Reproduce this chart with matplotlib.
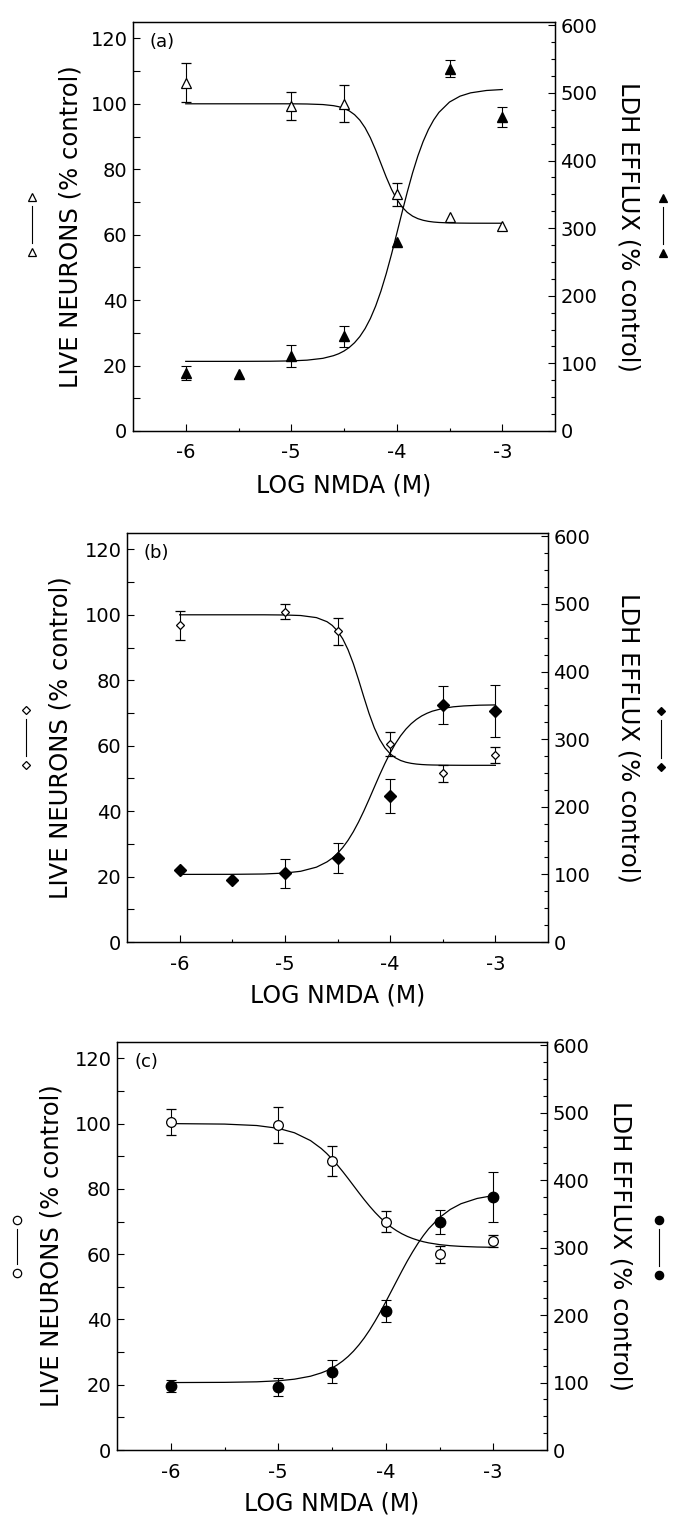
import numpy as np
import matplotlib
matplotlib.use("Agg")
import matplotlib.pyplot as plt
from matplotlib.lines import Line2D

plt.rcParams['font.family'] = ['DejaVu Sans']
plt.rcParams['axes.unicode_minus'] = False

# --- dati ---
# griglia delle curve di fit (log NMDA)
curve_x = [-6, -5.5, -5.2, -5, -4.85, -4.7, -4.6, -4.55, -4.5, -4.45, -4.4, -4.35,
           -4.3, -4.25, -4.2, -4.15, -4.1, -4.05, -4.0, -3.95, -3.9, -3.85, -3.8,
           -3.75, -3.7, -3.65, -3.6, -3.5, -3.4, -3.3, -3.15, -3]

# (a) triangoli
a_live_x = [-6, -5, -4.5, -4, -3.5, -3]
a_live_y = [106.5, 99.4, 100, 72.4, 65.5, 62.5]
a_live_err = [6, 4.3, 5.6, 3.5, np.nan, np.nan]
a_ldh_x = [-6, -5.5, -5, -4.5, -4, -3.5, -3]
a_ldh_y = [86, 84, 111, 140, 279, 536, 465]
a_ldh_err = [10, np.nan, 16, 16, np.nan, 13, 15]
a_live_fit = [100, 100, 100, 100, 99.94, 99.77, 99.43, 99.11, 98.6, 97.83, 96.68, 95.01,
              92.67, 89.61, 85.88, 81.75, 77.62, 73.89, 70.83, 68.49, 66.82, 65.67, 64.9,
              64.4, 64.07, 63.86, 63.73, 63.59, 63.54, 63.51, 63.5, 63.5]
a_ldh_fit = [103, 103, 103.2, 103.7, 104.8, 107.5, 111.4, 114.3, 118.3, 123.6, 130.6, 139.7,
             151.5, 166.4, 184.8, 206.9, 232.6, 261.3, 292, 323.2, 353.6, 381.8, 406.8,
             428.2, 445.9, 460.1, 471.3, 486.6, 495.3, 500.2, 503.7, 505.1]

# (b) rombi
b_live_x = [-6, -5, -4.5, -4, -3.5, -3]
b_live_y = [96.8, 101, 94.9, 60.5, 51.6, 57.2]
b_live_err = [4.5, 2.4, 4.2, 3.7, 2.6, 2.4]
b_ldh_x = [-6, -5.5, -5, -4.5, -4, -3.5, -3]
b_ldh_y = [106.5, 91.7, 101.6, 123.8, 216.4, 350.6, 341.7]
b_ldh_err = [np.nan, np.nan, 21, 22, 25, 28, 38]
b_live_fit = [100, 100, 100, 99.94, 99.78, 99.14, 97.9, 96.76, 95.06, 92.64, 89.33, 85.11,
              80.16, 74.89, 69.83, 65.44, 61.95, 59.36, 57.53, 56.29, 55.47, 54.94, 54.6,
              54.38, 54.24, 54.15, 54.1, 54.04, 54.02, 54, 54, 54]
b_ldh_fit = [100, 100.1, 100.6, 102, 104.6, 110.7, 118.5, 124, 131.1, 139.8, 150.4, 163,
             177.5, 193.7, 211.1, 229.1, 247, 263.9, 279.5, 293.3, 305.1, 314.9, 322.9,
             329.3, 334.4, 338.3, 341.4, 345.5, 347.9, 349.2, 350.3, 350.7]

# (c) cerchi
c_live_x = [-6, -5, -4.5, -4, -3.5, -3]
c_live_y = [100.4, 99.6, 88.6, 70, 59.9, 64.1]
c_live_err = [4, 5.5, 4.6, 3.2, 2.6, 1.9]
c_ldh_x = [-6, -5, -4.5, -4, -3.5, -3]
c_ldh_y = [95, 93.5, 116, 206.5, 338.5, 375]
c_ldh_err = [9, 14, 17, 16, 18, 37]
c_live_fit = [100, 99.85, 99.41, 98.55, 97.2, 94.8, 92.37, 90.87, 89.18, 87.31, 85.3, 83.18,
              81, 78.82, 76.7, 74.69, 72.82, 71.13, 69.63, 68.32, 67.2, 66.25, 65.45,
              64.8, 64.26, 63.81, 63.45, 62.93, 62.59, 62.38, 62.19, 62.1]
c_ldh_fit = [100, 100.3, 101.1, 102.6, 105, 109.4, 114.3, 117.5, 121.5, 126.3, 132, 138.7,
             146.6, 155.8, 166.2, 177.9, 190.9, 204.8, 219.6, 234.9, 250.2, 265.4, 280.1,
             293.8, 306.5, 318, 328.2, 344.7, 356.7, 365.2, 373, 377.3]

x_ticks = [-6, -5, -4, -3]
x_minor = [-5.5, -4.5, -3.5]
left_ticks = [0, 20, 40, 60, 80, 100, 120]
left_minor = [10, 30, 50, 70, 90, 110]
right_ticks = [0, 100, 200, 300, 400, 500, 600]
right_minor = [v for v in range(25, 600, 25) if v % 100]

W, H = 673, 1515
fig = plt.figure(figsize=(W / 100, H / 100), dpi=100)


def px(x, y):
    return x / W, 1 - y / H


def pannello(box, tag, marker, ms_open, ms_fill,
             live_x, live_y, live_err, ldh_x, ldh_y, ldh_err, live_fit, ldh_fit,
             lab_l, lab_r, xlab_y):
    l, t, r, b = box
    ax = fig.add_axes([l / W, 1 - b / H, (r - l) / W, (b - t) / H])
    ax2 = ax.twinx()

    ax.plot(curve_x, live_fit, color='black', lw=0.9, zorder=2)
    ax2.plot(curve_x, ldh_fit, color='black', lw=0.9, zorder=2)

    ax.errorbar(live_x, live_y, yerr=live_err, fmt=marker, ms=ms_open, mfc='white',
                mec='black', mew=0.9, ecolor='black', elinewidth=0.8, capsize=3.5,
                capthick=0.8, zorder=4)
    ax2.errorbar(ldh_x, ldh_y, yerr=ldh_err, fmt=marker, ms=ms_fill, mfc='black',
                 mec='black', ecolor='black', elinewidth=0.8, capsize=3.5,
                 capthick=0.8, zorder=4)

    ax.set_xlim(-6.5, -2.5)
    ax.set_ylim(0, 125)
    ax2.set_ylim(0, 605)
    ax.set_xticks(x_ticks)
    ax.set_xticks(x_minor, minor=True)
    ax.set_yticks(left_ticks)
    ax.set_yticks(left_minor, minor=True)
    ax2.set_yticks(right_ticks)
    ax2.set_yticks(right_minor, minor=True)

    ax.tick_params(axis='both', which='both', direction='in', width=0.8, labelsize=14)
    ax.tick_params(axis='y', which='major', length=5, pad=4)
    ax.tick_params(axis='y', which='minor', length=5)
    ax.tick_params(axis='x', which='major', length=5, pad=9)
    ax.tick_params(axis='x', which='minor', length=2.5)
    ax2.tick_params(axis='y', which='both', direction='in', width=0.8, labelsize=14, pad=4)
    ax2.tick_params(axis='y', which='major', length=5)
    ax2.tick_params(axis='y', which='minor', length=3)

    for a in (ax, ax2):
        for s in a.spines.values():
            s.set_linewidth(0.9)

    ax.set_xlabel('LOG NMDA (M)', fontsize=17)
    ax.xaxis.set_label_coords(0.5, -(xlab_y - b) / (b - t))
    ax.xaxis.label.set_va('center')
    ax.set_ylabel('LIVE NEURONS (% control)', fontsize=17.5)
    ax.yaxis.set_label_coords(lab_l, 0.5)
    ax.yaxis.label.set_va('center')
    ax2.set_ylabel('LDH EFFLUX (% control)', fontsize=17.5, rotation=270)
    ax2.yaxis.set_label_coords(lab_r, 0.5)
    ax2.yaxis.label.set_va('center')

    ax.text(0.04, 0.952, tag, transform=ax.transAxes, fontsize=13, ha='left', va='center')


pannello((133, 22, 555, 431), '(a)', '^', 7.5, 7.5,
         a_live_x, a_live_y, a_live_err, a_ldh_x, a_ldh_y, a_ldh_err,
         a_live_fit, a_ldh_fit, -0.147, 1.175, 485)
pannello((127, 533, 548, 942), '(b)', 'D', 4.5, 6,
         b_live_x, b_live_y, b_live_err, b_ldh_x, b_ldh_y, b_ldh_err,
         b_live_fit, b_ldh_fit, -0.159, 1.192, 995)
pannello((117, 1042, 547, 1450), '(c)', 'o', 7, 7.5,
         c_live_x, c_live_y, c_live_err, c_ldh_x, c_ldh_y, c_ldh_err,
         c_live_fit, c_ldh_fit, -0.152, 1.170, 1503)

# simboli a lato (legenda verticale)
simboli = [('^', 6, 32, 197, 252, 663, 198, 253),
           ('D', 4, 26, 710, 765, 661, 711, 767),
           ('o', 6, 17, 1220, 1273, 659, 1220, 1275)]
for m, ms, xl, yl1, yl2, xr, yr1, yr2 in simboli:
    for x, y1, y2, fc in ((xl, yl1, yl2, 'white'), (xr, yr1, yr2, 'black')):
        x1, f1 = px(x, y1)
        _, f2 = px(x, y2)
        _, g1 = px(x, y1 + 9)
        _, g2 = px(x, y2 - 9)
        fig.add_artist(Line2D([x1, x1], [g1, g2], transform=fig.transFigure,
                              color='black', lw=0.8))
        fig.add_artist(Line2D([x1, x1], [f1, f2], transform=fig.transFigure,
                              ls='none', marker=m, ms=ms, mfc=fc, mec='black', mew=0.9))

fig.savefig('out.png', dpi=100)
